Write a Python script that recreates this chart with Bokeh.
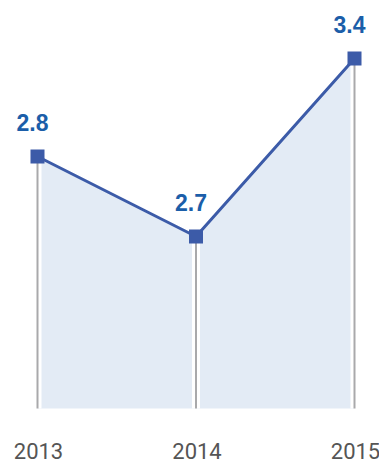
from bokeh.plotting import figure
from bokeh.models import ColumnDataSource, Range1d
from bokeh.core.properties import value
from bokeh.embed import file_html
from bokeh.resources import INLINE

years = [2013, 2014, 2015]
year_labels = ["2013", "2014", "2015"]
values = [2.8, 2.7, 3.4]
value_labels = ["2.8", "2.7", "3.4"]
# plotted level of each point above the baseline
levels = [252, 172, 350]

src = ColumnDataSource(dict(x=years, v=values, lvl=levels, base=[0] * 3,
                            vl=value_labels, yl=year_labels))

p = figure(width=379, height=462, output_backend="svg", toolbar_location=None,
           x_range=Range1d(2013 - 37 / 158.5, 2015 + 25 / 158.5),
           y_range=Range1d(-54, 408), min_border=0)
p.axis.visible = False
p.grid.visible = False
p.outline_line_color = None
p.background_fill_color = "white"
p.border_fill_color = "white"

p.varea(x="x", y1="base", y2="lvl", source=src, fill_color="#e3ebf5")
p.segment(x0="x", y0="base", x1="x", y1="lvl", source=src, line_color="white", line_width=8)
p.segment(x0="x", y0="base", x1="x", y1="lvl", source=src, line_color="#a9a9ab", line_width=2)
p.line(x="x", y="lvl", source=src, line_color="#3c5ba8", line_width=3)
p.scatter(x="x", y="lvl", source=src, marker="square", size=14,
          fill_color="#3c5ba8", line_color="#3c5ba8", line_width=0)

p.text(x="x", y="lvl", text="vl", source=src, x_offset=-5, y_offset=-34,
       text_align="center", text_baseline="middle", text_font=value("Liberation Sans"),
       text_font_style="bold", text_font_size="23px", text_color="#1b5ea9")
p.text(x="x", y="base", text="yl", source=src, x_offset=1, y_offset=42,
       text_align="center", text_baseline="middle", text_font=value("Roboto"),
       text_font_size="22px", text_color="#555555")

open("out.html", "w").write(file_html(p, INLINE))
